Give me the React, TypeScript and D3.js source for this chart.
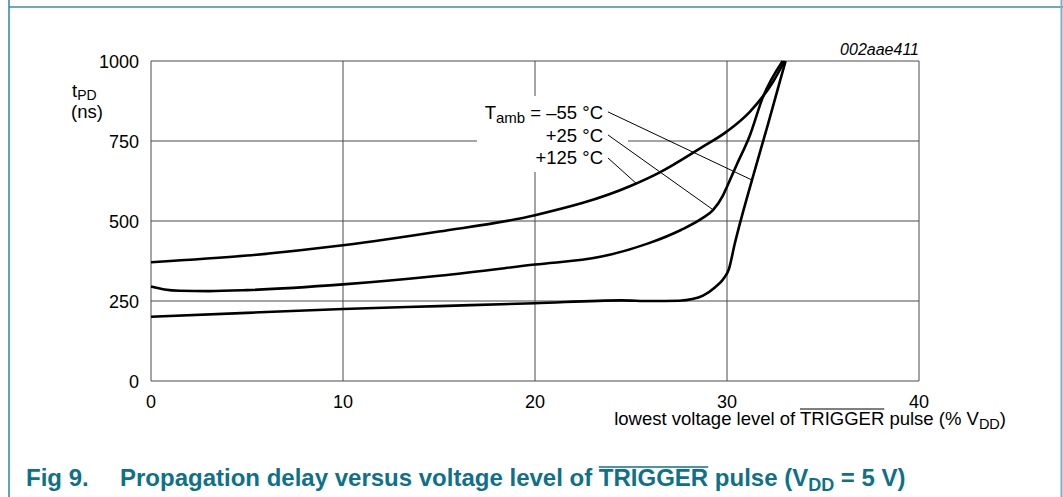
import React, { useRef, useEffect } from 'react';
import * as d3 from 'd3';

// axis ticks
const xTicks = [0, 10, 20, 30, 40];
const yTicks = [0, 250, 500, 750, 1000];

// tPD (ns) vs lowest trigger level (% VDD)
const tpdMinus55: [number, number][] = [
  [0, 201], [5, 213], [10, 225], [15, 234], [20, 243], [24.5, 252], [26, 250],
  [27.5, 251], [28.2, 256], [28.75, 267], [29.4, 294], [29.8, 318], [30.1, 350],
  [30.4, 428], [31.3, 628], [32.1, 795], [33.05, 1000],
];
const tpdPlus25: [number, number][] = [
  [0, 295], [0.7, 286], [1.5, 282], [3, 281], [5, 284], [10, 302], [15, 329],
  [20, 364], [23.4, 388], [25.9, 430], [27.6, 472], [28.7, 508], [29.27, 534],
  [29.8, 581], [30.0, 607], [30.5, 675], [31.2, 769], [31.85, 884], [32.9, 1000],
];
const tpdPlus125: [number, number][] = [
  [0, 371], [5, 392], [10, 424], [15, 467], [20, 518], [25, 610],
  [26.5, 652], [28.6, 727], [30, 780], [31.2, 842], [32.4, 935], [33, 1000],
];

// leader lines: [label end, point on curve] in data units
const leaders: [number, number][][] = [
  [[23.8, 841], [31.3, 628]],
  [[23.8, 769], [29.3, 534]],
  [[23.8, 697], [25.3, 616]],
];

const FONT = "'Liberation Sans', Arial, Helvetica, sans-serif";
const TEAL = '#0e7189';
const FS = 18.5;

export default function App() {
  const svgRef = useRef<SVGSVGElement>(null);

  useEffect(() => {
    const svg = d3.select(svgRef.current);
    svg.selectAll('*').remove();

    const x = d3.scaleLinear().domain([0, 40]).range([151, 919]);
    const y = d3.scaleLinear().domain([0, 1000]).range([381, 61]);

    // frame
    svg.append('line').attr('x1', 9).attr('x2', 1063).attr('y1', 7).attr('y2', 7)
      .attr('stroke', '#3b8fa8').attr('stroke-width', 1.5);
    svg.append('line').attr('x1', 9).attr('x2', 9).attr('y1', 0).attr('y2', 497)
      .attr('stroke', '#2a86a2').attr('stroke-width', 1.5);
    svg.append('line').attr('x1', 1061.5).attr('x2', 1061.5).attr('y1', 0).attr('y2', 497)
      .attr('stroke', '#6fb3c4').attr('stroke-width', 2);

    // grid
    svg.selectAll('.vgrid').data(xTicks).enter().append('line')
      .attr('class', 'vgrid')
      .attr('x1', d => x(d)).attr('x2', d => x(d))
      .attr('y1', y(0)).attr('y2', y(1000))
      .attr('stroke', '#4a4a4a').attr('stroke-width', 1);
    svg.selectAll('.hgrid').data(yTicks).enter().append('line')
      .attr('class', 'hgrid')
      .attr('x1', x(0)).attr('x2', x(40))
      .attr('y1', d => y(d)).attr('y2', d => y(d))
      .attr('stroke', '#4a4a4a').attr('stroke-width', 1);

    // white box behind the legend labels
    svg.append('rect').attr('x', 477).attr('y', 96).attr('width', 151).attr('height', 76)
      .attr('fill', '#fff');

    // tick labels
    svg.selectAll('.ylab').data(yTicks).enter().append('text')
      .attr('class', 'ylab')
      .attr('x', 139).attr('y', d => y(d) + 6.5)
      .attr('text-anchor', 'end')
      .attr('font-family', FONT).attr('font-size', 18)
      .text(d => d);
    svg.selectAll('.xlab').data(xTicks).enter().append('text')
      .attr('class', 'xlab')
      .attr('x', d => x(d)).attr('y', 407.5)
      .attr('text-anchor', 'middle')
      .attr('font-family', FONT).attr('font-size', 18)
      .text(d => d);

    // y axis title
    const yt = svg.append('text').attr('x', 72).attr('y', 97)
      .attr('font-family', FONT).attr('font-size', FS);
    yt.append('tspan').text('t');
    yt.append('tspan').attr('font-size', 14).attr('dy', 3).text('PD');
    svg.append('text').attr('x', 71).attr('y', 118)
      .attr('font-family', FONT).attr('font-size', FS).text('(ns)');

    // x axis title
    const xt = svg.append('text').attr('x', 1006).attr('y', 425)
      .attr('text-anchor', 'end')
      .attr('font-family', FONT).attr('font-size', FS);
    xt.append('tspan').text('lowest voltage level of ');
    const trig = xt.append('tspan').text('TRIGGER');
    xt.append('tspan').text(' pulse (% V');
    xt.append('tspan').attr('font-size', 14.5).attr('dy', 4).text('DD');
    xt.append('tspan').attr('dy', -4).text(')');
    const tb = (trig.node() as SVGTSpanElement).getBBox();
    svg.append('line').attr('x1', tb.x).attr('x2', tb.x + tb.width)
      .attr('y1', 409).attr('y2', 409).attr('stroke', '#000').attr('stroke-width', 1);

    // figure code
    svg.append('text').attr('x', 919).attr('y', 55).attr('text-anchor', 'end')
      .attr('font-family', FONT).attr('font-size', 16).attr('font-style', 'italic')
      .text('002aae411');

    // curves
    const line = d3.line<[number, number]>()
      .x(d => x(d[0])).y(d => y(d[1]))
      .curve(d3.curveMonotoneX);
    [tpdMinus55, tpdPlus25, tpdPlus125].forEach(s => {
      svg.append('path').datum(s).attr('d', line)
        .attr('fill', 'none').attr('stroke', '#000').attr('stroke-width', 2.6)
        .attr('stroke-linejoin', 'round');
    });

    // leaders
    leaders.forEach(l => {
      svg.append('line')
        .attr('x1', x(l[0][0])).attr('y1', y(l[0][1]))
        .attr('x2', x(l[1][0])).attr('y2', y(l[1][1]))
        .attr('stroke', '#000').attr('stroke-width', 1);
    });

    // legend labels
    const l1 = svg.append('text').attr('x', 603).attr('y', 119).attr('text-anchor', 'end')
      .attr('font-family', FONT).attr('font-size', FS);
    l1.append('tspan').text('T');
    l1.append('tspan').attr('font-size', 15).attr('dy', 4).text('amb');
    l1.append('tspan').attr('dy', -4).text(' = \u201355 \u00B0C');
    svg.append('text').attr('x', 603).attr('y', 142).attr('text-anchor', 'end')
      .attr('font-family', FONT).attr('font-size', FS).text('+25 \u00B0C');
    svg.append('text').attr('x', 603).attr('y', 164).attr('text-anchor', 'end')
      .attr('font-family', FONT).attr('font-size', FS).text('+125 \u00B0C');

    // caption
    svg.append('text').attr('x', 26).attr('y', 486)
      .attr('font-family', FONT).attr('font-size', 24).attr('font-weight', 'bold')
      .attr('fill', TEAL).text('Fig 9.');
    const ct = svg.append('text').attr('x', 120).attr('y', 486)
      .attr('font-family', FONT).attr('font-size', 24).attr('font-weight', 'bold')
      .attr('fill', TEAL);
    ct.append('tspan').text('Propagation delay versus voltage level of ');
    const ctrig = ct.append('tspan').text('TRIGGER');
    ct.append('tspan').text(' pulse (V');
    ct.append('tspan').attr('font-size', 18).attr('dy', 5).text('DD');
    ct.append('tspan').attr('dy', -5).text(' = 5 V)');
    const cb = (ctrig.node() as SVGTSpanElement).getBBox();
    svg.append('line').attr('x1', cb.x).attr('x2', cb.x + cb.width)
      .attr('y1', 467).attr('y2', 467).attr('stroke', TEAL).attr('stroke-width', 1.5);
  }, []);

  return (
    <svg ref={svgRef} width={1063} height={497}
      style={{ position: 'absolute', left: 0, top: 0, background: '#fff' }} />
  );
}
